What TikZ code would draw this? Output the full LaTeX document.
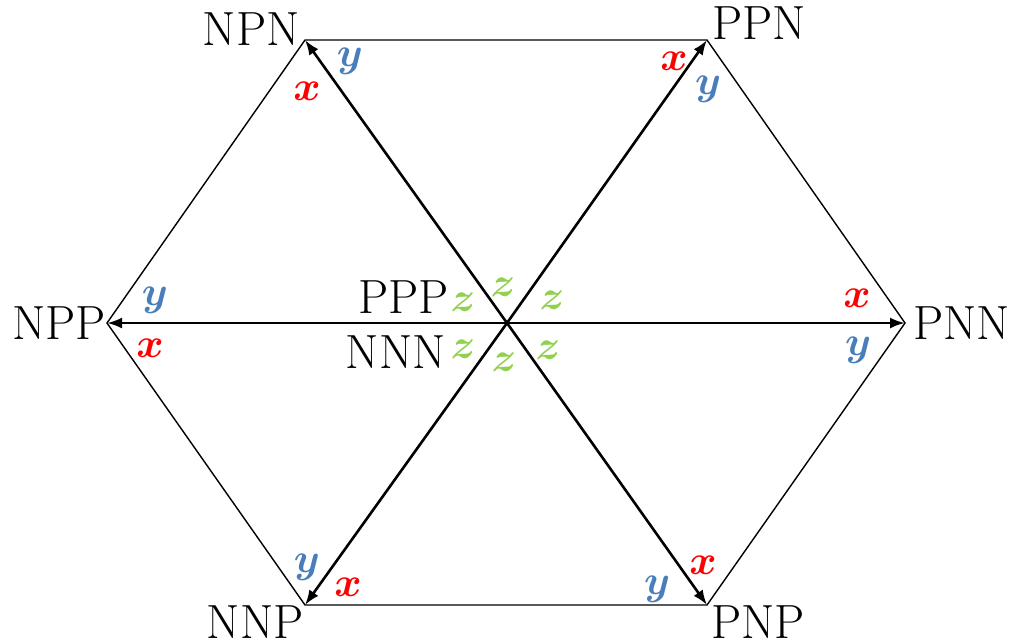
\documentclass[tikz,border=0pt]{standalone}
\usepackage{amsmath}
\usepackage{bm}
\usetikzlibrary{arrows.meta}
\definecolor{raudona}{RGB}{255,0,0}
\definecolor{melyna}{RGB}{74,126,187}
\definecolor{zalia}{RGB}{146,208,80}

\begin{document}
\begin{tikzpicture}[
  x=0.5pt, y=-0.5pt,
  % Linijų stiliai
  krastine/.style={line width=0.7pt},
  rodykle/.style={line width=1.3pt, -{Latex[length=7.5pt,width=5.5pt]}},
  % Užrašų stiliai
  virsune/.style={font=\fontsize{24}{28}\selectfont, inner sep=0pt},
  raidex/.style={text=raudona, font=\fontsize{20}{23}\selectfont, inner sep=0pt},
  raidey/.style={text=melyna, font=\fontsize{20}{23}\selectfont, inner sep=0pt},
  raidez/.style={text=zalia, font=\fontsize{20}{23}\selectfont, inner sep=0pt}
]
  \useasboundingbox (0,0) rectangle (1020,639);

  % Šešiakampio viršūnės
  \coordinate (O) at (507,323);
  \coordinate (NPN) at (305,40);
  \coordinate (PPN) at (707,40);
  \coordinate (PNN) at (905,323);
  \coordinate (PNP) at (707,605);
  \coordinate (NNP) at (305,605);
  \coordinate (NPP) at (107,323);

  % Kraštinės
  \draw[krastine] (NPN) -- (PPN) -- (PNN) -- (PNP) -- (NNP) -- (NPP) -- cycle;

  % Rodyklės iš centro
  \draw[rodykle] (O) -- (NPN);
  \draw[rodykle] (O) -- (PPN);
  \draw[rodykle] (O) -- (PNN);
  \draw[rodykle] (O) -- (PNP);
  \draw[rodykle] (O) -- (NNP);
  \draw[rodykle] (O) -- (NPP);

  % Viršūnių pavadinimai
  \node[virsune, anchor=south east] (lNPN) at (300,46) {NPN};
  \node[virsune, anchor=south west] (lPPN) at (712,40) {PPN};
  \node[virsune, anchor=west] (lPNN) at (913,323) {PNN};
  \node[virsune, anchor=north west] (lPNP) at (711,605) {PNP};
  \node[virsune, anchor=north east] (lNNP) at (304,605) {NNP};
  \node[virsune, anchor=east] (lNPP) at (106,323) {NPP};
  \node[virsune, anchor=east] (lPPP) at (449,297) {PPP};
  \node[virsune, anchor=east] (lNNN) at (446,352) {NNN};

  % Ašių raidės
  \node[raidey] (yNPN) at (350,61) {$\bm{y}$};
  \node[raidex] (xNPN) at (307,91) {$\bm{x}$};
  \node[raidex] (xPPN) at (674,61) {$\bm{x}$};
  \node[raidey] (yPPN) at (708,89) {$\bm{y}$};
  \node[raidey] (yNPP) at (155,300) {$\bm{y}$};
  \node[raidex] (xNPP) at (150,348) {$\bm{x}$};
  \node[raidex] (xPNN) at (857,298) {$\bm{x}$};
  \node[raidey] (yPNN) at (858,350) {$\bm{y}$};
  \node[raidey] (yNNP) at (307,567) {$\bm{y}$};
  \node[raidex] (xNNP) at (348,587) {$\bm{x}$};
  \node[raidey] (yPNP) at (657,589) {$\bm{y}$};
  \node[raidex] (xPNP) at (703,565) {$\bm{x}$};
  \node[raidez] (z1) at (463,302) {$\bm{z}$};
  \node[raidez] (z2) at (503,287) {$\bm{z}$};
  \node[raidez] (z3) at (552,300) {$\bm{z}$};
  \node[raidez] (z4) at (463,349) {$\bm{z}$};
  \node[raidez] (z5) at (504,362) {$\bm{z}$};
  \node[raidez] (z6) at (548,350) {$\bm{z}$};

\end{tikzpicture}
\end{document}
